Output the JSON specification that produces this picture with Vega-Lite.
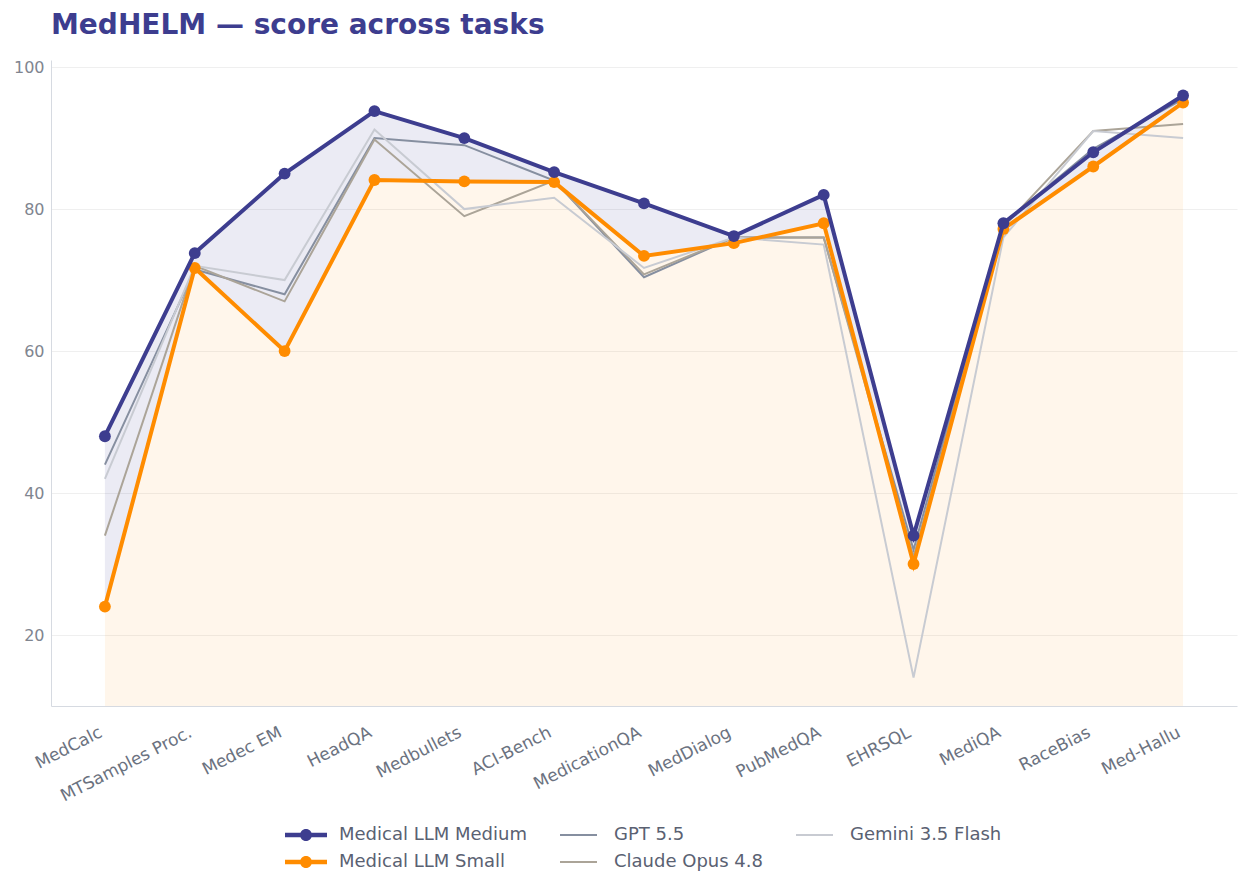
{
  "$schema": "https://vega.github.io/schema/vega-lite/v6.json",
  "width": 1186,
  "height": 646,
  "autosize": {"type": "none"},
  "padding": {"left": 51, "top": 60, "right": 11, "bottom": 185},
  "title": {
    "text": "MedHELM — score across tasks",
    "anchor": "start",
    "frame": "group",
    "fontSize": 28,
    "fontWeight": "bold",
    "color": "#3d3d8f",
    "offset": 19
  },
  "datasets": {
    "scores": [
      {"task": "MedCalc", "model": "Medical LLM Medium", "score": 48},
      {"task": "MTSamples Proc.", "model": "Medical LLM Medium", "score": 73.8},
      {"task": "Medec EM", "model": "Medical LLM Medium", "score": 85},
      {"task": "HeadQA", "model": "Medical LLM Medium", "score": 93.8},
      {"task": "Medbullets", "model": "Medical LLM Medium", "score": 90},
      {"task": "ACI-Bench", "model": "Medical LLM Medium", "score": 85.2},
      {"task": "MedicationQA", "model": "Medical LLM Medium", "score": 80.8},
      {"task": "MedDialog", "model": "Medical LLM Medium", "score": 76.2},
      {"task": "PubMedQA", "model": "Medical LLM Medium", "score": 82},
      {"task": "EHRSQL", "model": "Medical LLM Medium", "score": 34},
      {"task": "MediQA", "model": "Medical LLM Medium", "score": 78},
      {"task": "RaceBias", "model": "Medical LLM Medium", "score": 88},
      {"task": "Med-Hallu", "model": "Medical LLM Medium", "score": 96},

      {"task": "MedCalc", "model": "Medical LLM Small", "score": 24},
      {"task": "MTSamples Proc.", "model": "Medical LLM Small", "score": 71.7},
      {"task": "Medec EM", "model": "Medical LLM Small", "score": 60},
      {"task": "HeadQA", "model": "Medical LLM Small", "score": 84.1},
      {"task": "Medbullets", "model": "Medical LLM Small", "score": 83.9},
      {"task": "ACI-Bench", "model": "Medical LLM Small", "score": 83.8},
      {"task": "MedicationQA", "model": "Medical LLM Small", "score": 73.4},
      {"task": "MedDialog", "model": "Medical LLM Small", "score": 75.2},
      {"task": "PubMedQA", "model": "Medical LLM Small", "score": 78},
      {"task": "EHRSQL", "model": "Medical LLM Small", "score": 30},
      {"task": "MediQA", "model": "Medical LLM Small", "score": 77.2},
      {"task": "RaceBias", "model": "Medical LLM Small", "score": 86},
      {"task": "Med-Hallu", "model": "Medical LLM Small", "score": 95},

      {"task": "MedCalc", "model": "GPT 5.5", "score": 44},
      {"task": "MTSamples Proc.", "model": "GPT 5.5", "score": 71.5},
      {"task": "Medec EM", "model": "GPT 5.5", "score": 68},
      {"task": "HeadQA", "model": "GPT 5.5", "score": 90},
      {"task": "Medbullets", "model": "GPT 5.5", "score": 89},
      {"task": "ACI-Bench", "model": "GPT 5.5", "score": 84},
      {"task": "MedicationQA", "model": "GPT 5.5", "score": 70.4},
      {"task": "MedDialog", "model": "GPT 5.5", "score": 76},
      {"task": "PubMedQA", "model": "GPT 5.5", "score": 76},
      {"task": "EHRSQL", "model": "GPT 5.5", "score": 32},
      {"task": "MediQA", "model": "GPT 5.5", "score": 78},
      {"task": "RaceBias", "model": "GPT 5.5", "score": 88.5},
      {"task": "Med-Hallu", "model": "GPT 5.5", "score": 95.5},

      {"task": "MedCalc", "model": "Claude Opus 4.8", "score": 34},
      {"task": "MTSamples Proc.", "model": "Claude Opus 4.8", "score": 72},
      {"task": "Medec EM", "model": "Claude Opus 4.8", "score": 67},
      {"task": "HeadQA", "model": "Claude Opus 4.8", "score": 89.8},
      {"task": "Medbullets", "model": "Claude Opus 4.8", "score": 79},
      {"task": "ACI-Bench", "model": "Claude Opus 4.8", "score": 84},
      {"task": "MedicationQA", "model": "Claude Opus 4.8", "score": 70.8},
      {"task": "MedDialog", "model": "Claude Opus 4.8", "score": 76},
      {"task": "PubMedQA", "model": "Claude Opus 4.8", "score": 76},
      {"task": "EHRSQL", "model": "Claude Opus 4.8", "score": 31},
      {"task": "MediQA", "model": "Claude Opus 4.8", "score": 77.5},
      {"task": "RaceBias", "model": "Claude Opus 4.8", "score": 91},
      {"task": "Med-Hallu", "model": "Claude Opus 4.8", "score": 92},

      {"task": "MedCalc", "model": "Gemini 3.5 Flash", "score": 42},
      {"task": "MTSamples Proc.", "model": "Gemini 3.5 Flash", "score": 72},
      {"task": "Medec EM", "model": "Gemini 3.5 Flash", "score": 70},
      {"task": "HeadQA", "model": "Gemini 3.5 Flash", "score": 91.2},
      {"task": "Medbullets", "model": "Gemini 3.5 Flash", "score": 80},
      {"task": "ACI-Bench", "model": "Gemini 3.5 Flash", "score": 81.6},
      {"task": "MedicationQA", "model": "Gemini 3.5 Flash", "score": 71.7},
      {"task": "MedDialog", "model": "Gemini 3.5 Flash", "score": 76},
      {"task": "PubMedQA", "model": "Gemini 3.5 Flash", "score": 75},
      {"task": "EHRSQL", "model": "Gemini 3.5 Flash", "score": 14},
      {"task": "MediQA", "model": "Gemini 3.5 Flash", "score": 76},
      {"task": "RaceBias", "model": "Gemini 3.5 Flash", "score": 91},
      {"task": "Med-Hallu", "model": "Gemini 3.5 Flash", "score": 90}
    ]
  },
  "data": {"name": "scores"},
  "encoding": {
    "x": {
      "field": "task",
      "type": "nominal",
      "sort": ["MedCalc", "MTSamples Proc.", "Medec EM", "HeadQA", "Medbullets", "ACI-Bench", "MedicationQA", "MedDialog", "PubMedQA", "EHRSQL", "MediQA", "RaceBias", "Med-Hallu"],
      "scale": {"type": "point", "padding": 0.6},
      "axis": {
        "title": null,
        "labelAngle": -27,
        "labelAlign": "right",
        "labelBaseline": "top",
        "labelFontSize": 17,
        "labelColor": "#6b7280",
        "labelPadding": 18,
        "labelOffset": -8,
        "ticks": false,
        "grid": false,
        "domainColor": "#d6dae1"
      }
    },
    "y": {
      "field": "score",
      "type": "quantitative",
      "scale": {"domain": [10, 101], "nice": false, "zero": false},
      "axis": {
        "title": null,
        "values": [20, 40, 60, 80, 100],
        "labelFontSize": 16,
        "labelColor": "#80858f",
        "labelPadding": 7,
        "ticks": false,
        "grid": true,
        "gridColor": "#efefef",
        "domainColor": "#d6dae1"
      }
    }
  },
  "layer": [
    {
      "transform": [{"pivot": "model", "value": "score", "groupby": ["task"]}],
      "mark": {"type": "area", "color": "#ff8c00", "opacity": 0.08},
      "encoding": {
        "y": {"field": "Medical LLM Small", "type": "quantitative"},
        "y2": {"datum": 10},
        "order": {"value": null}
      }
    },
    {
      "transform": [{"pivot": "model", "value": "score", "groupby": ["task"]}],
      "mark": {"type": "area", "color": "#3d3d8f", "opacity": 0.1},
      "encoding": {
        "y": {"field": "Medical LLM Medium", "type": "quantitative"},
        "y2": {"field": "Medical LLM Small"},
        "order": {"value": null}
      }
    },
    {
      "transform": [{"filter": "datum.model !== 'Medical LLM Medium' && datum.model !== 'Medical LLM Small'"}],
      "mark": {"type": "line", "strokeWidth": 2},
      "encoding": {
        "color": {
          "field": "model",
          "type": "nominal",
          "scale": {
            "domain": ["Medical LLM Medium", "GPT 5.5", "Gemini 3.5 Flash", "Medical LLM Small", "Claude Opus 4.8"],
            "range": ["#3d3d8f", "#868fa0", "#c8cbd2", "#ff8c00", "#aba498"]
          },
          "legend": {
            "title": null,
            "orient": "none",
            "legendX": 234,
            "legendY": 765,
            "direction": "horizontal",
            "columns": 3,
            "padding": 0,
            "labelFontSize": 18,
            "labelColor": "#5a6172",
            "labelLimit": 400,
            "labelOffset": 34,
            "symbolSize": 400,
            "columnPadding": 33,
            "rowPadding": 8,
            "encode": {
              "symbols": {
                "update": {
                  "shape": {"signal": "(datum.value === 'Medical LLM Medium' || datum.value === 'Medical LLM Small') ? 'M-1,-0.225H3.2V0.225H-1Z M1.7,0A0.6,0.6,0,1,1,0.5,0A0.6,0.6,0,1,1,1.7,0Z' : 'M-1,-0.1H2.7V0.1H-1Z'"},
                  "fill": {"signal": "scale('color', datum.value)"},
                  "strokeWidth": {"value": 0},
                  "opacity": {"value": 1}
                }
              }
            }
          }
        },
        "order": {"value": null}
      }
    },
    {
      "transform": [{"filter": "datum.model === 'Medical LLM Small'"}],
      "mark": {"type": "line", "strokeWidth": 4},
      "encoding": {
        "color": {"field": "model", "type": "nominal"},
        "order": {"value": null}
      }
    },
    {
      "transform": [{"filter": "datum.model === 'Medical LLM Small'"}],
      "mark": {"type": "circle", "size": 140, "opacity": 1},
      "encoding": {
        "color": {"field": "model", "type": "nominal"}
      }
    },
    {
      "transform": [{"filter": "datum.model === 'Medical LLM Medium'"}],
      "mark": {"type": "line", "strokeWidth": 4},
      "encoding": {
        "color": {"field": "model", "type": "nominal"},
        "order": {"value": null}
      }
    },
    {
      "transform": [{"filter": "datum.model === 'Medical LLM Medium'"}],
      "mark": {"type": "circle", "size": 140, "opacity": 1},
      "encoding": {
        "color": {"field": "model", "type": "nominal"}
      }
    }
  ],
  "config": {
    "font": "DejaVu Sans",
    "view": {"stroke": null}
  }
}
